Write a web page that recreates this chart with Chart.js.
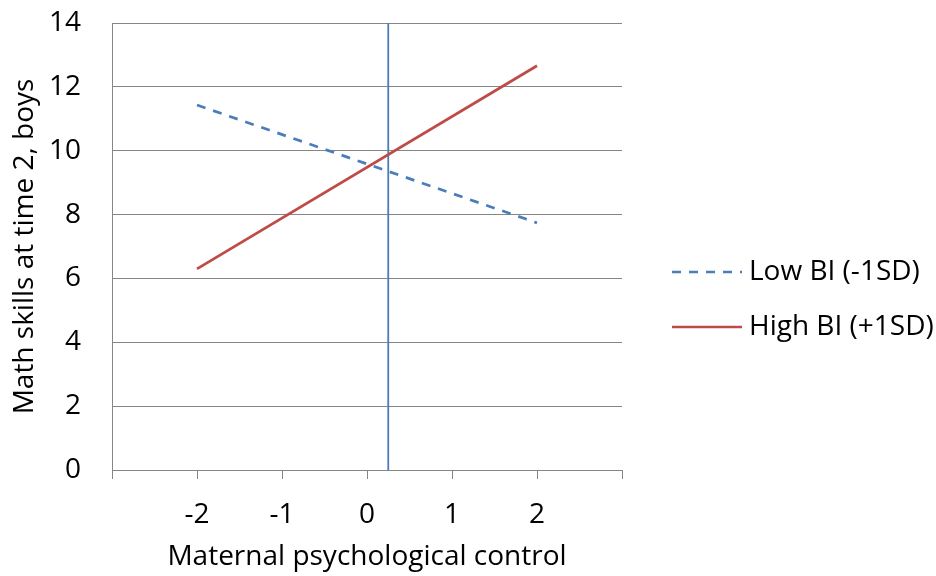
<!DOCTYPE html>
<html>
<head>
<meta charset="utf-8">
<script src="https://cdn.jsdelivr.net/npm/chart.js@4"></script>
<style>
  html, body { margin: 0; padding: 0; background: #ffffff; }
</style>
</head>
<body>
<canvas id="c" width="936" height="576"></canvas>
<script>
// ---- data ----
const xPoints = [-2, 2];
const lowBI = [11.43, 7.74];     // Low BI (-1SD)
const highBI = [6.30, 12.66];    // High BI (+1SD)
const refLineX = [0.25, 0.25];   // vertical reference line
const refLineY = [0, 14];
const xTickLabels = [-2, -1, 0, 1, 2];
const xTickMarks = [-3, -2, -1, 0, 1, 2, 3];
const yTickValues = [0, 2, 4, 6, 8, 10, 12, 14];
const seriesNames = ['Low BI (-1SD)', 'High BI (+1SD)'];

const FONT = '"Open Sans", Lato, sans-serif';
const FS = 28;
const GRID = '#868686';
const BLUE = '#4A7EBB';
const RED = '#BE4B48';
const DASH = [9, 8];

const toPts = (xs, ys) => xs.map((x, i) => ({ x: x, y: ys[i] }));

// legend swatch images (line samples)
function swatch(color, dash) {
  const cv = document.createElement('canvas');
  cv.width = 70; cv.height = 4;
  const g = cv.getContext('2d');
  g.strokeStyle = color;
  g.lineWidth = 2.5;
  g.setLineDash(dash);
  g.beginPath(); g.moveTo(0, 2); g.lineTo(70, 2); g.stroke();
  return cv;
}

new Chart(document.getElementById('c'), {
  type: 'line',
  data: {
    datasets: [
      {
        label: seriesNames[0],
        data: toPts(xPoints, lowBI),
        borderColor: BLUE,
        backgroundColor: BLUE,
        borderWidth: 2.75,
        borderDash: DASH,
        pointRadius: 0,
        pointStyle: swatch(BLUE, DASH),
        fill: false,
        tension: 0
      },
      {
        label: seriesNames[1],
        data: toPts(xPoints, highBI),
        borderColor: RED,
        backgroundColor: RED,
        borderWidth: 2.75,
        pointRadius: 0,
        pointStyle: swatch(RED, []),
        fill: false,
        tension: 0
      },
      {
        label: 'ref',
        data: toPts(refLineX, refLineY),
        borderColor: BLUE,
        borderWidth: 1.8,
        pointRadius: 0,
        fill: false
      }
    ]
  },
  options: {
    responsive: false,
    animation: false,
    layout: { padding: { left: 8, right: 0, top: 23, bottom: 0 } },
    plugins: {
      tooltip: { enabled: false },
      legend: {
        position: 'right',
        align: 'start',
        maxWidth: 284,
        title: { display: true, text: ' ', padding: { top: 193.6, bottom: 0 }, font: { size: 12 } },
        labels: {
          usePointStyle: true,
          pointStyleWidth: 56,
          padding: 27,
          color: '#000',
          font: { family: FONT, size: FS },
          filter: (item) => item.datasetIndex < 2
        }
      }
    },
    scales: {
      x: {
        type: 'linear',
        min: -3,
        max: 3,
        afterBuildTicks: (s) => { s.ticks = xTickMarks.map(v => ({ value: v })); },
        afterFit: (s) => { s.height = 106; s.paddingLeft = 0; s.paddingRight = 0; },
        ticks: {
          callback: (v) => (xTickLabels.includes(v) ? String(v) : ''),
          color: '#000',
          font: { family: FONT, size: FS },
          padding: 19,
          maxRotation: 0,
          autoSkip: false
        },
        grid: { drawOnChartArea: false, drawTicks: true, tickLength: 9, color: GRID, lineWidth: 1 },
        border: { display: true, color: GRID, width: 1 },
        title: { display: true, text: 'Maternal psychological control', color: '#000', font: { family: FONT, size: FS }, padding: { top: 0, bottom: 2 } }
      },
      y: {
        type: 'linear',
        min: 0,
        max: 14,
        afterBuildTicks: (s) => { s.ticks = yTickValues.map(v => ({ value: v })); },
        afterFit: (s) => { s.width = 104; s.paddingTop = 0; s.paddingBottom = 0; },
        ticks: { color: '#000', font: { family: FONT, size: FS }, padding: 31 },
        grid: { drawTicks: false, color: GRID, lineWidth: 1 },
        border: { display: true, color: GRID, width: 1 },
        title: { display: true, text: 'Math skills at time 2, boys', color: '#000', font: { family: FONT, size: FS }, padding: { top: 0, bottom: 10 } }
      },
      gap: {
        type: 'linear',
        position: 'right',
        display: true,
        grid: { display: false, drawTicks: false },
        border: { display: false },
        ticks: { display: false },
        afterFit: (s) => { s.width = 30; s.paddingTop = 0; s.paddingBottom = 0; }
      }
    }
  }
});
</script>
</body>
</html>
